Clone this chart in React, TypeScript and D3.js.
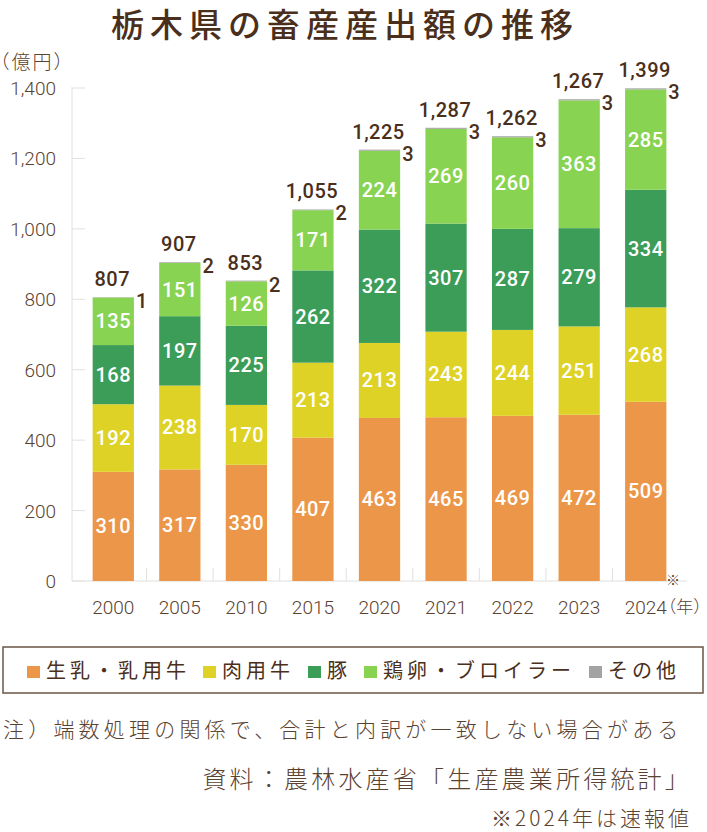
import React from "react";
import * as d3 from "d3";

const years = ["2000", "2005", "2010", "2015", "2020", "2021", "2022", "2023", "2024"];
const series = ["生乳・乳用牛", "肉用牛", "豚", "鶏卵・ブロイラー", "その他"];
const colors = ["#EC9649", "#DED226", "#3B9D58", "#88D352", "#A3A3A3"];

const dairy = [310, 317, 330, 407, 463, 465, 469, 472, 509];
const beef = [192, 238, 170, 213, 213, 243, 244, 251, 268];
const pork = [168, 197, 225, 262, 322, 307, 287, 279, 334];
const poultry = [135, 151, 126, 171, 224, 269, 260, 363, 285];
const other = [1, 2, 2, 2, 3, 3, 3, 3, 3];
const totals = ["807", "907", "853", "1,055", "1,225", "1,287", "1,262", "1,267", "1,399"];
const yTicks = [0, 200, 400, 600, 800, 1000, 1200, 1400];

const W = 707;
const H = 832;
const brown = "#4A2F1C";
const tickBrown = "#5A4231";
const grid = "#E4E0DC";
const numFont = "Roboto, 'Noto Sans', sans-serif";
const jpFont = "'Noto Sans CJK JP', sans-serif";
const halfPunct = { fontFeatureSettings: "'halt'" };

const rows = years.map((y, i) => ({
  year: y,
  s0: dairy[i],
  s1: beef[i],
  s2: pork[i],
  s3: poultry[i],
  s4: other[i],
}));

// legend square x positions
const legendSq = [27, 203, 308, 364, 589];

export default function App() {
  const left = 72;
  const top = 88;
  const bottom = 581;

  const x = d3.scaleBand().domain(years).range([80, 679]).paddingInner(0.38).paddingOuter(0.19);
  const y = d3.scaleLinear().domain([0, 1400]).range([bottom, top]);
  const stacked = d3.stack<any>().keys(["s0", "s1", "s2", "s3", "s4"])(rows);
  const gap = x.step() - x.bandwidth();
  const cx = (yr: string) => x(yr)! + x.bandwidth() / 2;

  return (
    <svg width={W} height={H} style={{ display: "block", position: "absolute", left: 0, top: 0 }}>
      <rect width={W} height={H} fill="#fff" />
      <text x={111} y={37} fontFamily={jpFont} fontSize={33} fill={brown} letterSpacing={6}
        fontWeight={500}>
        栃木県の畜産産出額の推移
      </text>
      <text x={0} y={69} fontFamily={jpFont} fontSize={19} fill={tickBrown} fontWeight={300}
        letterSpacing={2} style={halfPunct}>
        （億円）
      </text>

      {/* axes */}
      <line x1={left} x2={left} y1={top - 1} y2={bottom} stroke={grid} />
      <line x1={left} x2={687} y1={bottom} y2={bottom} stroke={grid} strokeWidth={1.2} />
      {yTicks.map((t) => (
        <g key={t}>
          <line x1={left} x2={left + 13} y1={y(t)} y2={y(t)} stroke={grid} />
          <text x={56} y={y(t) + 7} textAnchor="end" fontFamily={numFont} fontWeight={300}
            fontSize={19} fill={tickBrown}>
            {d3.format(",")(t)}
          </text>
        </g>
      ))}
      {years.slice(1).map((yr) => (
        <line key={yr} x1={x(yr)! - gap / 2} x2={x(yr)! - gap / 2} y1={bottom - 13} y2={bottom}
          stroke={grid} />
      ))}

      {/* stacked bars */}
      {stacked.map((layer, li) => (
        <g key={li}>
          {layer.map((d, i) => (
            <rect key={i} x={x(years[i])} width={x.bandwidth()} y={y(d[1])}
              height={y(d[0]) - y(d[1])} fill={colors[li]} />
          ))}
        </g>
      ))}

      {/* segment values */}
      {stacked.slice(0, 4).map((layer, li) => (
        <g key={"v" + li}>
          {layer.map((d, i) => (
            <text key={i} x={cx(years[i])} y={(y(d[0]) + y(d[1])) / 2 + 7} textAnchor="middle"
              fontFamily={numFont} fontWeight={500} fontSize={20} letterSpacing={0.5} fill="#fff">
              {d[1] - d[0]}
            </text>
          ))}
        </g>
      ))}

      {/* totals and その他 */}
      {stacked[4].map((d, i) => (
        <g key={"t" + i}>
          <text x={cx(years[i]) - 1} y={y(d[1]) - 11} textAnchor="middle" fontFamily={numFont}
            fontWeight={500} fontSize={20} letterSpacing={0.5} fill={brown}>
            {totals[i]}
          </text>
          <text x={x(years[i])! + x.bandwidth() + 2} y={y(d[1]) + 11} fontFamily={numFont}
            fontWeight={500} fontSize={20} fill={brown}>
            {d[1] - d[0]}
          </text>
        </g>
      ))}
      <text x={666} y={585} fontFamily={jpFont} fontSize={14} fill={tickBrown}>※</text>

      {/* x labels */}
      {years.map((yr) => (
        <text key={yr} x={cx(yr)} y={614} textAnchor="middle" fontFamily={numFont}
          fontWeight={300} fontSize={19} fill={tickBrown}>
          {yr}
        </text>
      ))}
      <text x={cx("2024") + 22} y={613} fontFamily={jpFont} fontWeight={300} fontSize={17}
        fill={tickBrown} style={halfPunct}>
        （年）
      </text>

      {/* legend */}
      <rect x={3} y={647} width={700} height={46} fill="none" stroke="#6B5646" strokeWidth={1.5} />
      {series.map((s, i) => (
        <g key={s}>
          <rect x={legendSq[i]} y={666} width={13} height={12} fill={colors[i]} />
          <text x={legendSq[i] + 19} y={678} fontFamily={jpFont} fontSize={20} letterSpacing={4}
            fill={brown}>
            {s}
          </text>
        </g>
      ))}

      {/* notes */}
      <text x={3} y={737} fontFamily={jpFont} fontSize={21} fill={tickBrown} letterSpacing={4.2}
        fontWeight={300}>
        注）端数処理の関係で、合計と内訳が一致しない場合がある
      </text>
      <text x={692} y={788} textAnchor="end" fontFamily={jpFont} fontSize={24} fill={tickBrown}
        letterSpacing={3.2} fontWeight={300}>
        資料：農林水産省「生産農業所得統計」
      </text>
      <text x={692} y={826} textAnchor="end" fontFamily={jpFont} fontSize={21} fill={tickBrown}
        letterSpacing={3} fontWeight={300}>
        ※2024年は速報値
      </text>
    </svg>
  );
}
